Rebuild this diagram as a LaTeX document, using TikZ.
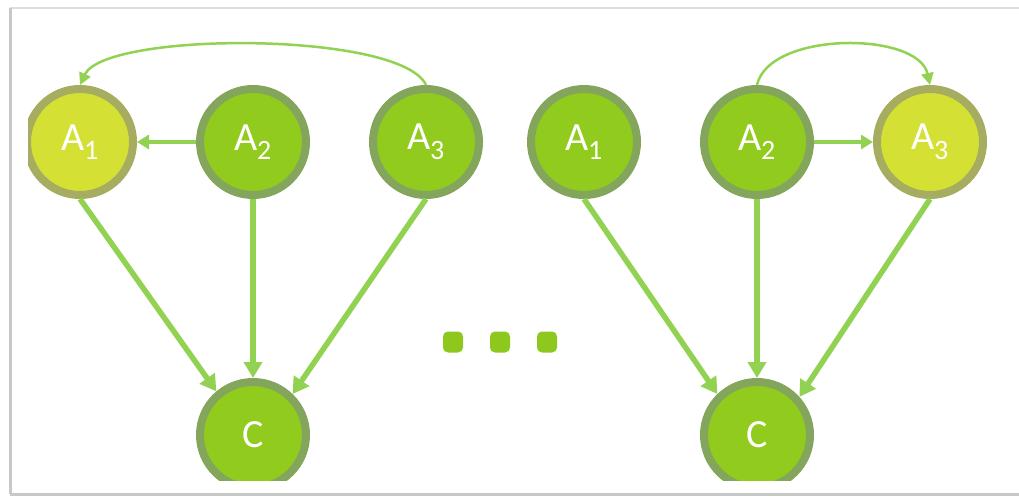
\documentclass[tikz,border=0pt]{standalone}
\usepackage{fontspec}
\setmainfont{Carlito}
\usetikzlibrary{arrows.meta}

\definecolor{nodefill}{RGB}{145,203,30}
\definecolor{nodering}{RGB}{132,166,92}
\definecolor{hifill}{RGB}{212,225,52}
\definecolor{hiring}{RGB}{166,172,96}
\definecolor{edgegreen}{RGB}{146,210,82}
\definecolor{dotgreen}{RGB}{142,200,30}
\definecolor{framegray}{RGB}{200,200,200}

\tikzset{
  var/.style={circle, minimum size=106pt, inner sep=0pt, line width=8pt,
    draw=nodering, fill=nodefill, text=white,
    font=\fontsize{40}{44}\selectfont},
  hivar/.style={var, draw=hiring, fill=hifill},
  thickarrow/.style={draw=edgegreen, line width=5.5pt,
    -{Triangle[width=18pt,length=16pt]}, fill=edgegreen},
  sidearrow/.style={draw=edgegreen, line width=3.5pt,
    -{Triangle[width=14pt,length=12pt]}},
  arcarrow/.style={draw=edgegreen, line width=2.5pt,
    -{Triangle[width=12pt,length=12pt]}},
  dotmark/.style={fill=dotgreen, rounded corners=5pt, minimum width=20pt,
    minimum height=21pt, inner sep=0pt}
}

\begin{document}
\begin{tikzpicture}[x=1pt,y=-1pt]
  \useasboundingbox (0,0) rectangle (1019,497);
  \fill[white] (0,0) rectangle (1019,497);

  % page frame with soft shadow
  \draw[framegray!60, line width=2pt] (10,8) -- (1019,8);
  \draw[framegray, line width=3pt] (10,8) -- (10,494);
  \draw[framegray, line width=3pt] (10,494) -- (1019,494);

  \begin{scope}
    \clip (28,0) rectangle (1019,480);

    % left network
    \node[hivar] (la1) at (80,142)  {A\textsubscript{1}};
    \node[var]   (la2) at (253,142) {A\textsubscript{2}};
    \node[var]   (la3) at (426,142) {A\textsubscript{3}};
    \node[var]   (lc)  at (253,435) {C};

    \draw[sidearrow] (la2.west) -- (la1.east);
    \draw[arcarrow] (la3.north) .. controls +(-25,-54) and +(25,-54) .. (la1.north);
    \draw[thickarrow] (la1.south) -- (lc.130);
    \draw[thickarrow] (la2.south) -- (lc.north);
    \draw[thickarrow] (la3.south) -- (lc.46);

    % right network
    \node[var]   (ra1) at (584,142) {A\textsubscript{1}};
    \node[var]   (ra2) at (757,142) {A\textsubscript{2}};
    \node[hivar] (ra3) at (930,142) {A\textsubscript{3}};
    \node[var]   (rc)  at (757,435) {C};

    \draw[sidearrow] (ra2.east) -- (ra3.west);
    \draw[arcarrow] (ra2.north) .. controls +(12,-54) and +(-12,-54) .. (ra3.north);
    \draw[thickarrow] (ra1.south) -- (rc.134);
    \draw[thickarrow] (ra2.south) -- (rc.north);
    \draw[thickarrow] (ra3.south) -- (rc.42);

    % ellipsis between the two networks
    \node[dotmark] (d1) at (453,342) {};
    \node[dotmark] (d2) at (500,342) {};
    \node[dotmark] (d3) at (547,342) {};
  \end{scope}
\end{tikzpicture}
\end{document}
